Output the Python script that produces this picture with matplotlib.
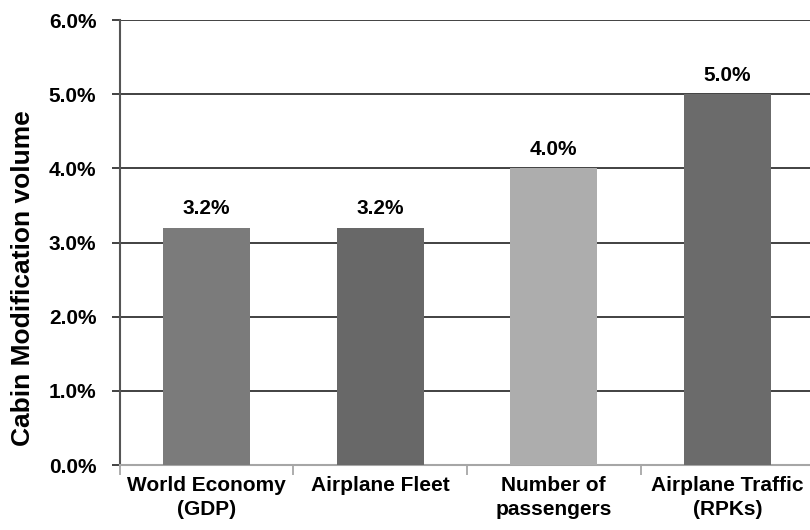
import matplotlib.pyplot as plt
from matplotlib.ticker import FuncFormatter

categories = ["World Economy\n(GDP)", "Airplane Fleet", "Number of\npassengers", "Airplane Traffic\n(RPKs)"]
values = [3.2, 3.2, 4.0, 5.0]
bar_colors = ["#7b7b7b", "#686868", "#adadad", "#6b6b6b"]
yticks = [0, 1, 2, 3, 4, 5, 6]

plt.rcParams['font.family'] = ['Liberation Sans', 'DejaVu Sans']
plt.rcParams['font.weight'] = 'bold'

fig = plt.figure(figsize=(8.1, 5.3), dpi=100)
ax = fig.add_axes([0.148, 0.1226, 0.857, 0.8396])

x = list(range(len(categories)))
ax.bar(x, values, width=0.5, color=bar_colors, zorder=3)

for xi, v in zip(x, values):
    ax.text(xi, v + 0.13, f"{v:.1f}%", ha='center', va='bottom', fontsize=15, fontweight='bold')

ax.set_xlim(-0.5, len(categories) - 0.5)
ax.set_ylim(0, 6)
ax.set_yticks(yticks)
ax.yaxis.set_major_formatter(FuncFormatter(lambda v, p: f"{v:.1f}%"))
for t in yticks[1:]:
    ax.axhline(t, color='#333333', lw=1.3, zorder=1)

ax.set_xticks([i + 0.5 for i in range(-1, len(categories))], minor=False)
ax.set_xticklabels([])
ax.set_xticks(x, minor=True)
ax.set_xticklabels(categories, minor=True, fontsize=15, fontweight='bold', linespacing=1.35)
ax.tick_params(axis='x', which='minor', length=0, pad=8)
ax.tick_params(axis='x', which='major', length=7, color='#a0a0a0', width=1.2)
ax.tick_params(axis='y', length=6, color='#333333', width=1.3, pad=11, labelsize=15)
for lab in ax.get_yticklabels():
    lab.set_fontweight('bold')

ax.spines['top'].set_visible(False)
ax.spines['right'].set_visible(False)
ax.spines['left'].set_color('#555555')
ax.spines['left'].set_linewidth(1.5)
ax.spines['bottom'].set_color('#a6a6a6')
ax.spines['bottom'].set_linewidth(1.5)

ax.set_ylabel("Cabin Modification volume", fontsize=19, fontweight='bold', labelpad=10, y=0.42)

fig.savefig("out.png", dpi=100)
